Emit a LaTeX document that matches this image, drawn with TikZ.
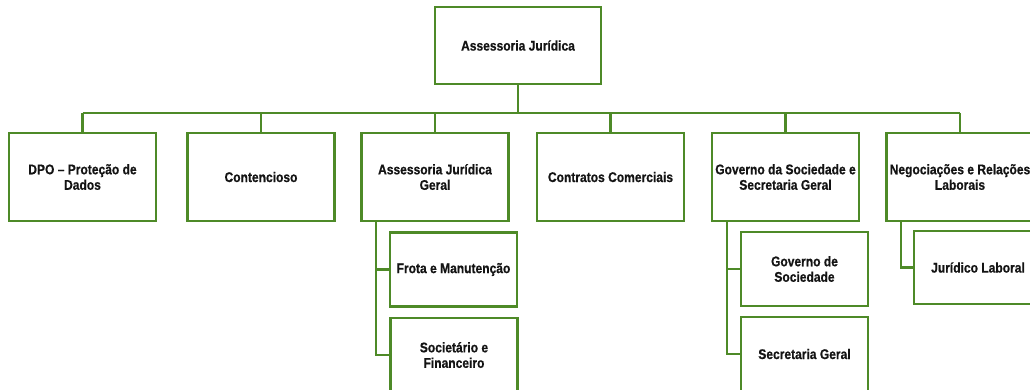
\documentclass[tikz,border=0pt]{standalone}
\usepackage{fontspec}
\setmainfont{Liberation Sans}[FakeStretch=0.86,BoldFeatures={FakeBold=0.6}]
\definecolor{boxgreen}{RGB}{78,138,40}
\definecolor{txt}{RGB}{20,20,20}
\begin{document}
\begin{tikzpicture}[x=1pt,y=-1pt,
  orgbox/.style={draw=boxgreen,line width=2.7pt,fill=white,align=center,
    font=\fontsize{14}{15.5}\selectfont\bfseries,text=txt,inner sep=1pt},
  conn/.style={draw=boxgreen,line width=2.5pt,line join=miter}]
\clip (0,0) rectangle (1030,389);
\fill[white] (0,0) rectangle (1030,389);
% top
\node[orgbox,minimum width=166pt,minimum height=77pt] (top) at (518,45.5) {Assessoria Jurídica};
% row 1
\tikzset{row/.style={orgbox,minimum width=147pt,minimum height=88pt}}
\node[row] (dpo) at (82.5,177) {DPO – Proteção de\\Dados};
\node[row] (cont) at (261,177) {Contencioso};
\node[row] (ajg) at (435,177) {Assessoria Jurídica\\Geral};
\node[row] (contr) at (610.5,177) {Contratos Comerciais};
\node[row] (gov) at (785.5,177) {Governo da Sociedade e\\Secretaria Geral};
\node[row] (neg) at (960,177) {Negociações e Relações\\Laborais};
% sub boxes
\tikzset{sub/.style={orgbox,minimum width=127pt,minimum height=74pt}}
\node[sub] (frota) at (453.5,269.5) {Frota e Manutenção};
\node[sub] (soc) at (454,355) {Societário e\\Financeiro};
\node[sub] (govsoc) at (804.5,269) {Governo de\\Sociedade};
\node[sub] (secg) at (804.5,354) {Secretaria Geral};
\node[sub,minimum width=128pt,minimum height=73pt] (jurlab) at (978,267.5) {Jurídico Laboral};
% bus
\coordinate (bus) at (0,113);
\draw[conn] (top.south) -- (top.south |- bus);
\draw[conn] (dpo.north |- bus) -- (neg.north |- bus);
\foreach \n in {dpo,cont,ajg,contr,gov,neg}{
  \draw[conn] (\n.north) -- (\n.north |- bus);
}
% sub trunks
\coordinate (t1) at (376,0);
\coordinate (t2) at (727,0);
\coordinate (t3) at (901,0);
\draw[conn] (ajg.south -| t1) |- (soc.west);
\draw[conn] (frota.west) -- (frota.west -| t1);
\draw[conn] (gov.south -| t2) |- (secg.west);
\draw[conn] (govsoc.west) -- (govsoc.west -| t2);
\draw[conn] (neg.south -| t3) |- (jurlab.west);
\end{tikzpicture}
\end{document}
